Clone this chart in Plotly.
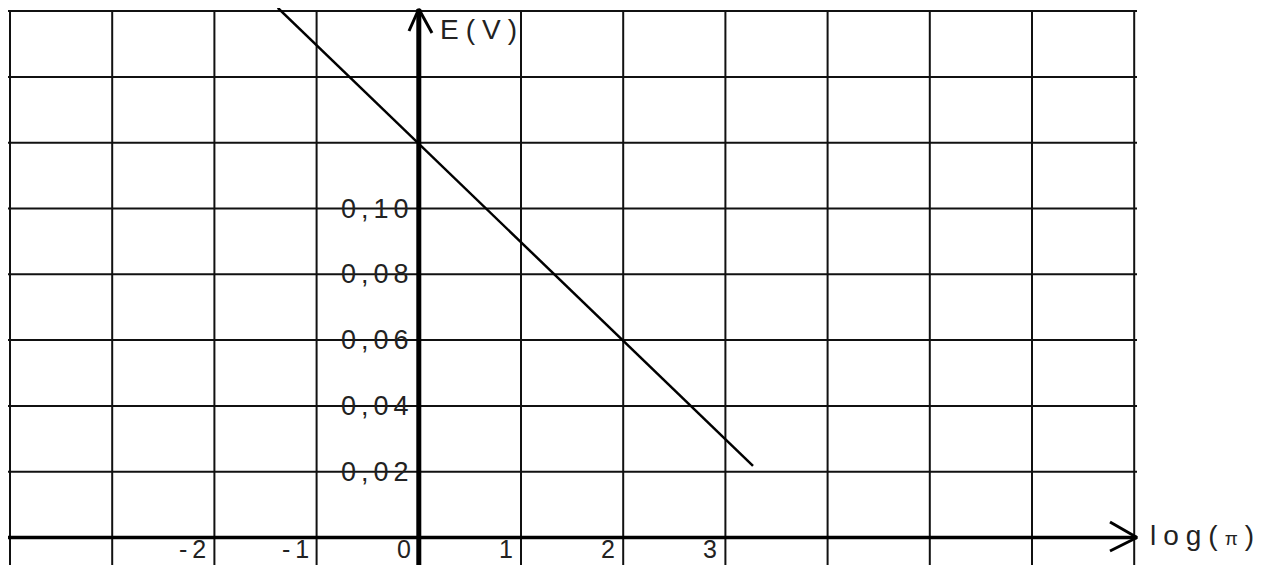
import plotly.graph_objects as go

# ---- data ----
grid_x = [-4, -3, -2, -1, 0, 1, 2, 3, 4, 5, 6, 7]
grid_E = [0.02, 0.04, 0.06, 0.08, 0.10, 0.12, 0.14, 0.16]
x_label_vals = [-2, -1, 0, 1, 2, 3]
x_labels = ["-2", "-1", "0", "1", "2", "3"]
y_label_vals = [0.02, 0.04, 0.06, 0.08, 0.10]
y_labels = ["0,02", "0,04", "0,06", "0,08", "0,10"]
line_logpi = [-1.38, 3.27]
line_E = [0.161, 0.0218]

# ---- layout geometry ----
# the page body has an 8px margin, so the figure is 8px smaller and offset
OFF = 8
W, H = 1270 - OFF, 565 - OFF
UX = 102.2      # pixels per log unit
UY = 3290.0     # pixels per volt
x0_px, y0_px = 418.8 - OFF, 537.5 - OFF
x_range = [-x0_px / UX, (W - x0_px) / UX]
y_range = [-(H - y0_px) / UY, y0_px / UY]


def X(p):  # reference pixel column -> data x
    return (p - OFF - x0_px) / UX


def Y(p):  # reference pixel row -> data y
    return (y0_px - (p - OFF)) / UY


x_left = X(8)
x_right = X(1137)
y_bottom = y_range[0] - 0.01

fig = go.Figure()

# vertical grid lines
vx, vy = [], []
for gx in grid_x:
    vx += [gx, gx, None]
    vy += [grid_E[-1], y_bottom, None]
fig.add_trace(go.Scatter(x=vx, y=vy, mode="lines", line=dict(color="#111", width=2),
                         hoverinfo="skip", showlegend=False))
# horizontal grid lines
hx, hy = [], []
for ge in grid_E:
    hx += [x_left, x_right, None]
    hy += [ge, ge, None]
fig.add_trace(go.Scatter(x=hx, y=hy, mode="lines", line=dict(color="#111", width=2),
                         hoverinfo="skip", showlegend=False))

# x axis with arrow
fig.add_trace(go.Scatter(x=[X(7), x_right], y=[0, 0], mode="lines",
                         line=dict(color="#000", width=3.5), hoverinfo="skip", showlegend=False))
fig.add_trace(go.Scatter(x=[X(1110), x_right, X(1110)],
                         y=[Y(522), 0, Y(551)], mode="lines",
                         line=dict(color="#000", width=3), hoverinfo="skip", showlegend=False))
# y axis with arrow
y_tip = Y(9)
fig.add_trace(go.Scatter(x=[0, 0], y=[y_bottom, y_tip], mode="lines",
                         line=dict(color="#000", width=5), hoverinfo="skip", showlegend=False))
fig.add_trace(go.Scatter(x=[X(409), 0, X(432)],
                         y=[Y(31), y_tip, Y(33)], mode="lines",
                         line=dict(color="#000", width=3), hoverinfo="skip", showlegend=False))

# data line
fig.add_trace(go.Scatter(x=line_logpi, y=line_E, mode="lines",
                         line=dict(color="#000", width=2.5), hoverinfo="skip", showlegend=False))

FONT = "Liberation Sans, Arial, sans-serif"
LS = "letter-spacing:5px"
LS2 = "letter-spacing:7px"
ann = []
for v, t in zip(y_label_vals, y_labels):
    ann.append(dict(x=0, y=v, xref="x", yref="y", text=f"<span style='{LS}'>{t}</span>",
                    showarrow=False, xanchor="right", yanchor="middle", xshift=-3,
                    font=dict(family=FONT, size=27, color="#222")))
for v, t in zip(x_label_vals, x_labels):
    ann.append(dict(x=v, y=Y(564.5), xref="x", yref="y", text=f"<span style='{LS}'>{t}</span>",
                    showarrow=False, xanchor="right", yanchor="bottom", xshift=-1,
                    font=dict(family=FONT, size=25, color="#222")))
ann.append(dict(x=X(438), y=Y(29), xref="x", yref="y",
                text=f"<span style='{LS2}'>E(V)</span>", showarrow=False,
                xanchor="left", yanchor="middle",
                font=dict(family=FONT, size=28, color="#222")))
ann.append(dict(x=X(1148), y=Y(535), xref="x", yref="y",
                text=f"<span style='{LS2}'>log(<span style='font-size:19px'>π</span>)</span>",
                showarrow=False, xanchor="left", yanchor="middle",
                font=dict(family=FONT, size=28, color="#222")))

fig.update_layout(
    width=W, height=H,
    margin=dict(l=0, r=0, t=0, b=0),
    paper_bgcolor="white", plot_bgcolor="white",
    xaxis=dict(range=x_range, visible=False, fixedrange=True),
    yaxis=dict(range=y_range, visible=False, fixedrange=True),
    annotations=ann,
    showlegend=False,
)

fig.write_html("out.html")
